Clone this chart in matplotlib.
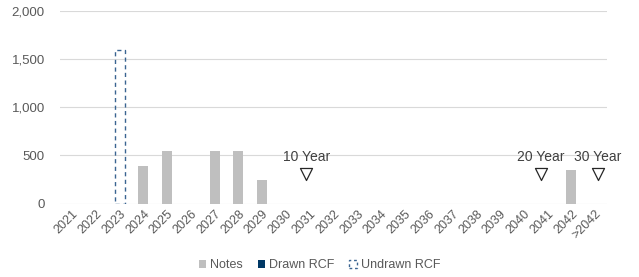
import matplotlib.pyplot as plt
from matplotlib.patches import Patch
import numpy as np

plt.rcParams['font.family'] = ['Liberation Sans', 'DejaVu Sans']

years = [str(y) for y in range(2021, 2043)] + ['>2042']
notes = [0, 0, 0, 390, 550, 0, 545, 550, 250, 0, 0, 0, 0, 0, 0, 0, 0, 0, 0, 0, 0, 350, 0]
drawn_rcf = [0] * 23
undrawn_rcf = [0, 0, 1600, 0, 0, 0, 0, 0, 0, 0, 0, 0, 0, 0, 0, 0, 0, 0, 0, 0, 0, 0, 0]
# tenor markers sit a little off the category centres in the original
marker_labels = ['10 Year', '20 Year', '30 Year']
marker_pos = [9.85, 19.72, 22.1]
marker_value = 310

grey = '#595959'
x = np.arange(len(years))
notes = np.array(notes)
drawn_rcf = np.array(drawn_rcf)
undrawn_rcf = np.array(undrawn_rcf)

fig = plt.figure(figsize=(6.39, 2.77), dpi=100)
ax = fig.add_axes([0.094, 0.265, 0.856, 0.695])

w = 0.42
ax.bar(x, notes, w, color='#bfbfbf', zorder=3)
m = drawn_rcf > 0
ax.bar(x[m], drawn_rcf[m], w, bottom=notes[m], color='#003865', zorder=3)
m = undrawn_rcf > 0
ax.bar(x[m], undrawn_rcf[m], w, bottom=(notes + drawn_rcf)[m], facecolor='none',
       edgecolor='#3a6491', linestyle=(0, (3, 2.5)), linewidth=1.0, zorder=3)

ax.scatter(marker_pos, [marker_value] * 3, marker='v', s=75, facecolor='white',
           edgecolor='#262626', linewidth=0.9, zorder=4)
for lab, p in zip(marker_labels, marker_pos):
    ax.text(p, marker_value + 100, lab, ha='center', va='bottom',
            fontsize=10, color='#404040')

ax.set_xlim(-0.5, len(years) - 0.5)
ax.set_ylim(0, 2000)
ax.set_yticks([0, 500, 1000, 1500, 2000])
ax.set_yticklabels(['0', '500', '1,000', '1,500', '2,000'])
ax.set_xticks(x)
ax.set_xticklabels(years, rotation=45, ha='right', rotation_mode='anchor')
ax.tick_params(axis='x', length=0, colors=grey, labelsize=9, pad=3)
ax.tick_params(axis='y', length=0, colors=grey, labelsize=9.5, pad=11)
ax.grid(axis='y', color='#d9d9d9', linewidth=0.8, zorder=0)
for s in ax.spines.values():
    s.set_visible(False)

handles = [Patch(facecolor='#bfbfbf'),
           Patch(facecolor='#003865'),
           Patch(facecolor='none', edgecolor='#3a6491', linestyle=(0, (2, 2)))]
fig.legend(handles, ['Notes', 'Drawn RCF', 'Undrawn RCF'], loc='lower center',
           bbox_to_anchor=(0.5, -0.02), ncol=3, frameon=False, fontsize=9,
           handlelength=0.6, handleheight=0.6, handletextpad=0.3, columnspacing=1.2,
           labelcolor=grey)

fig.savefig('out.png', dpi=100)
